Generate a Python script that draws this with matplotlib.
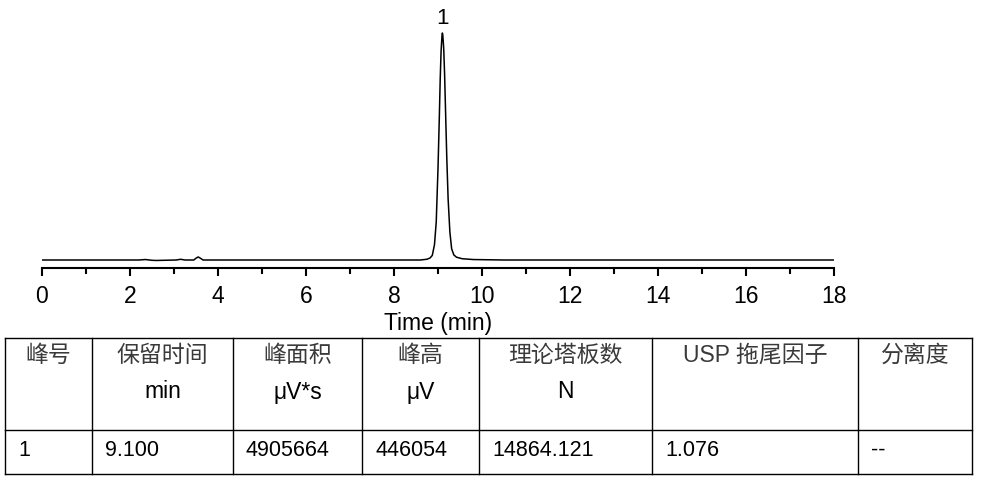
import matplotlib
matplotlib.use("Agg")
import matplotlib.pyplot as plt
from matplotlib.ticker import MultipleLocator

plt.rcParams["font.family"] = ["Liberation Sans", "Noto Sans CJK SC", "DejaVu Sans"]

# chromatogram trace (time in min, signal in uV)
time_min = [0.0, 2.20, 2.35, 2.50, 2.60, 2.80, 3.05, 3.15, 3.25, 3.45, 3.50,
            3.55, 3.60, 3.66, 3.80, 5.00, 7.00, 8.60, 8.75, 8.82, 8.87,
            8.92, 8.96, 9.00, 9.03, 9.05, 9.07, 9.09, 9.10, 9.11, 9.13,
            9.15, 9.18, 9.20, 9.23, 9.27, 9.31, 9.36, 9.42, 9.55, 9.80,
            10.5, 12.0, 15.0, 18.0]
signal_uv = [0, 0, 900, -600, -900, -500, 0, 1400, 0, 0, 3500,
             6000, 3500, 0, 0, 0, 0, 0, 1500, 4000, 9000,
             30000, 75000, 180000, 280000, 355000, 410000, 440000, 446054, 441000, 415000,
             365000, 265000, 200000, 120000, 55000, 22000, 10000, 5500, 2500, 900,
             0, 0, 0, 0]

peak_labels = ["1"]
peak_times = [9.10]
peak_heights = [446054]

x_ticks = [0, 2, 4, 6, 8, 10, 12, 14, 16, 18]

# results table
header_top = ["峰号", "保留时间", "峰面积", "峰高", "理论塔板数", "USP 拖尾因子", "分离度"]
header_units = ["", "min", "μV*s", "μV", "N", "", ""]
row_values = ["1", "9.100", "4905664", "446054", "14864.121", "1.076", "--"]

W, H = 983, 483
fig = plt.figure(figsize=(W / 100, H / 100), dpi=100)

# chart axes in pixel layout: x 42..834, axis line at y=268, top at y=10
px_per_uv = 1 / 1965.0
ax = fig.add_axes([42 / W, (H - 268) / H, (834 - 42) / W, 258 / H])
ax.plot(time_min, signal_uv, color="black", linewidth=1.1)
ax.set_xlim(0, 18)
ax.set_ylim(-8 / px_per_uv, 250 / px_per_uv)
for s in ["top", "left", "right"]:
    ax.spines[s].set_visible(False)
ax.spines["bottom"].set_linewidth(1.5)
ax.set_yticks([])
ax.set_xticks(x_ticks)
ax.xaxis.set_minor_locator(MultipleLocator(1))
ax.tick_params(axis="x", which="major", direction="out", length=6, width=1.5,
               labelsize=16.5, pad=6)
ax.tick_params(axis="x", which="minor", direction="out", length=4, width=1.5)
ax.set_xlabel("Time (min)", fontsize=16.5, labelpad=3)
for lab, t, h in zip(peak_labels, peak_times, peak_heights):
    ax.annotate(lab, (t, h), xytext=(0, 3), textcoords="offset points",
                ha="center", va="bottom", fontsize=16)

# table overlay in pixel coordinates
tab = fig.add_axes([0, 0, 1, 1])
tab.set_xlim(0, W)
tab.set_ylim(H, 0)
tab.axis("off")
tab.patch.set_alpha(0)

col_edges = [5, 92, 233, 362, 479, 652, 858, 972]
row_edges = [338, 430, 474]
lw = 1.0
for y in row_edges:
    tab.plot([col_edges[0], col_edges[-1]], [y, y], color="black", linewidth=lw)
for x in col_edges:
    tab.plot([x, x], [row_edges[0], row_edges[-1]], color="black", linewidth=lw)

for i in range(len(header_top)):
    cx = (col_edges[i] + col_edges[i + 1]) / 2
    tab.text(cx, 355, header_top[i], ha="center", va="center", fontsize=16.5,
             color="#3a3a3a")
    if header_units[i]:
        tab.text(cx, 392, header_units[i], ha="center", va="center",
                 fontsize=16.5, color="black")
    tab.text(col_edges[i] + 13, 450, row_values[i], ha="left", va="center",
             fontsize=15.5, color="black")

fig.savefig("out.png", dpi=100)
